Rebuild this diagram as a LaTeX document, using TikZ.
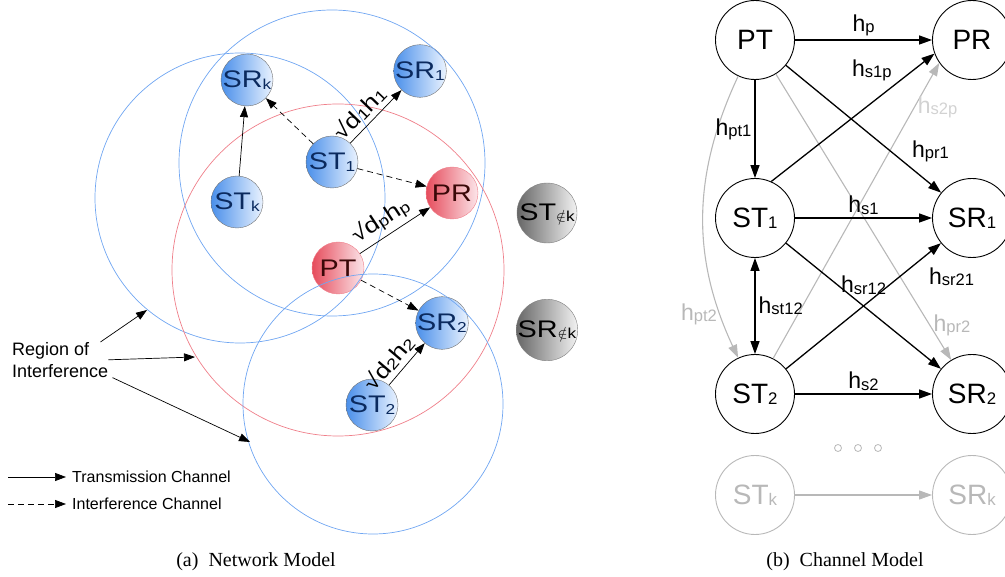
\documentclass[tikz,border=0pt]{standalone}
\usepackage{fontspec}
\setmainfont{Liberation Sans}
\newfontfamily\widesans[FakeStretch=1.2]{Liberation Sans}
\newfontfamily\capfont{Liberation Serif}
\usetikzlibrary{arrows.meta, positioning}

\definecolor{ringblue}{HTML}{70A6F2}
\definecolor{ringred}{HTML}{EF7F8A}
\definecolor{nodeblue}{HTML}{4A8FEA}
\definecolor{paleblue}{HTML}{EAF3FF}
\definecolor{nodered}{HTML}{E64C5C}
\definecolor{palered}{HTML}{FCE6EA}
\definecolor{navytext}{HTML}{0B2A5E}
\definecolor{maroontext}{HTML}{3A0808}
\definecolor{fadegray}{HTML}{B8B8B8}
\definecolor{palegray}{HTML}{D2D2D2}

% small index set on the baseline
\newcommand{\sbs}[2][0.6]{\raisebox{-0.1ex}{\scalebox{#1}{#2}}}

\begin{document}
\begin{tikzpicture}[x=1pt, y=1pt, on grid,
    net/.style={circle, inner sep=0pt, minimum size=52pt, font=\widesans\fontsize{24}{28}\selectfont},
    su/.style={net, draw=black!55, left color=nodeblue, right color=paleblue, text=navytext},
    pu/.style={net, draw=ringred, left color=nodered, right color=palered, text=maroontext},
    ou/.style={net, minimum size=60pt, draw=black!50, left color=black!60, right color=black!5, text=black},
    ring/.style={line width=0.7pt},
    tx/.style={-{Triangle[length=11pt, width=8pt]}, line width=0.7pt},
    ix/.style={tx, dash pattern=on 6pt off 4pt},
    lab/.style={font=\widesans\fontsize{22}{26}\selectfont, inner sep=0pt},
    note/.style={font=\fontsize{16}{20}\selectfont, inner sep=0pt},
    ch/.style={circle, draw, line width=0.9pt, inner sep=0pt, minimum size=79pt, font=\fontsize{28}{32}\selectfont},
    chf/.style={ch, draw=fadegray, text=fadegray},
    lnk/.style={-{Triangle[length=13pt, width=9pt]}, line width=1.3pt},
    flnk/.style={lnk, fadegray, line width=1.1pt},
    lbl/.style={font=\fontsize{23}{27}\selectfont, inner sep=3pt},
    captext/.style={font=\capfont\fontsize{20}{24}\selectfont}]
    \useasboundingbox (0,0) rectangle (1005,-577);

    % (a) network model
    \node[su] (SRk) at (247,-80) {SR\sbs{k}};
    \node[su] (SR1) at (420,-71) {SR\sbs{1}};
    \node[su] (ST1) at (332,-162) {ST\sbs{1}};
    \node[su] (STk) at (237,-202) {ST\sbs{k}};
    \node[pu] (PR) at (452,-193) {PR};
    \node[pu] (PT) at (338,-268) {PT};
    \node[su] (SR2) at (442,-323) {SR\sbs{2}};
    \node[su] (ST2) at (372,-405) {ST\sbs{2}};
    \node[ou] (STo) at (547,-213) {ST\sbs{$\notin$k}};
    \node[ou] (SRo) at (547,-330) {SR\sbs{$\notin$k}};

    \draw[ring, ringblue] (240,-198) circle[radius=145];
    \draw[ring, ringblue] (332,-163) circle[radius=153];
    \draw[ring, ringred] (338,-270) circle[radius=166];
    \draw[ring, ringblue] (373,-404) circle[radius=130];

    \draw[tx] (STk) -- (SRk);
    \draw[ix] (ST1) -- (SRk);
    \draw[tx] (ST1) -- node[lab, sloped, above=5pt, pos=0.38] {√d\sbs[0.7]{1}h\sbs[0.7]{1}} (SR1);
    \draw[ix] (ST1) -- (PR);
    \draw[tx] (PT) -- node[lab, sloped, above=5pt, pos=0.42] {√d\sbs[0.7]{p}h\sbs[0.7]{p}} (PR);
    \draw[ix] (PT) -- (SR2);
    \draw[tx] (ST2) -- node[lab, sloped, above=5pt, pos=0.3] {√d\sbs[0.7]{2}h\sbs[0.7]{2}} (SR2);

    \node[align=left, anchor=north west, inner sep=0pt, font=\fontsize{18}{22}\selectfont] (roi) at (12,-342) {Region of\\Interference};
    \coordinate (roiA) at (147,-310);
    \coordinate (roiB) at (195,-357);
    \coordinate (roiC) at (250,-442);
    \draw[tx] ([xshift=-8pt]roi.north east) -- (roiA);
    \draw[tx] (roi.east) -- (roiB);
    \draw[tx] ([xshift=4pt]roi.south east) -- (roiC);

    \coordinate (lgA) at (8,-477);
    \coordinate (lgB) at (66,-477);
    \coordinate (lgC) at (8,-504);
    \coordinate (lgD) at (66,-504);
    \draw[tx] (lgA) -- (lgB);
    \draw[ix] (lgC) -- (lgD);
    \node[note, anchor=west] (lgTx) at ([xshift=6pt]lgB) {Transmission Channel};
    \node[note, anchor=west] (lgIx) at ([xshift=6pt]lgD) {Interference Channel};

    % (b) channel model
    \node[ch] (PTc) at (755,-40) {PT};
    \node[ch, right=217pt of PTc] (PRc) {PR};
    \node[ch, below=178pt of PTc] (ST1c) {ST\sbs{1}};
    \node[ch, below=178pt of PRc] (SR1c) {SR\sbs{1}};
    \node[ch, below=176pt of ST1c] (ST2c) {ST\sbs{2}};
    \node[ch, below=176pt of SR1c] (SR2c) {SR\sbs{2}};
    \node[chf, below=101pt of ST2c] (STkc) {ST\sbs{k}};
    \node[chf, below=101pt of SR2c] (SRkc) {SR\sbs{k}};
    \foreach \i in {0,1,2}
        \node[circle, draw=fadegray, line width=0.8pt, minimum size=7pt, inner sep=0pt] (dot\i) at (838+20*\i,-448) {};

    \path[flnk]
    (PTc) edge[out=245, in=115] node[lbl, pos=0.85, left] {h\sbs[0.72]{pt2}} (ST2c)
          edge node[lbl, pos=0.88, right] {h\sbs[0.72]{pr2}} (SR2c)
    (ST2c.63) edge node[lbl, pos=0.85, right, text=palegray] {h\sbs[0.72]{s2p}} (PRc.215)
    (STkc) edge (SRkc);

    \path[lnk]
    (PTc) edge node[lbl, above] {h\sbs[0.72]{p}} (PRc)
          edge node[lbl, left] {h\sbs[0.72]{pt1}} (ST1c)
          edge node[lbl, pos=0.79, anchor=south west] {h\sbs[0.72]{pr1}} (SR1c)
    (ST1c.66) edge node[lbl, pos=0.76, anchor=south east] {h\sbs[0.72]{s1p}} (PRc.200)
    (ST1c) edge node[lbl, above] {h\sbs[0.72]{s1}} (SR1c)
           edge node[lbl, above=8pt] {h\sbs[0.72]{sr12}} (SR2c)
           edge[{Triangle[length=13pt, width=9pt]}-{Triangle[length=13pt, width=9pt]}] node[lbl, right] {h\sbs[0.72]{st12}} (ST2c)
    (ST2c) edge node[lbl, pos=0.9, anchor=north west, yshift=-8pt] {h\sbs[0.72]{sr21}} (SR1c)
           edge node[lbl, above] {h\sbs[0.72]{s2}} (SR2c);

    \node[captext] (capA) at (256,-562) {(a)~~Network Model};
    \node[captext] (capB) at (845,-562) {(b)~~Channel Model};
\end{tikzpicture}
\end{document}
